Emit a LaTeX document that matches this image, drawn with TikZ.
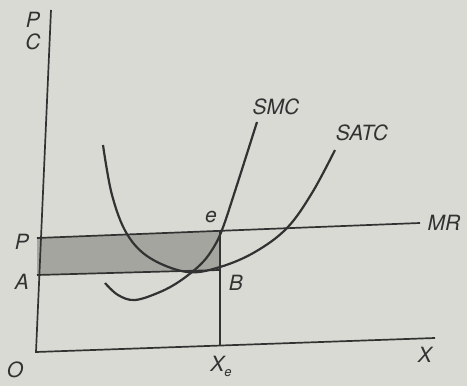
\documentclass[tikz,border=0pt]{standalone}
\usepackage{fontspec}
\setmainfont{TeX Gyre Heros}
\definecolor{bg}{RGB}{218,218,213}
\definecolor{ink}{RGB}{50,50,50}
\definecolor{hatchgray}{RGB}{165,165,160}
\begin{document}
\begin{tikzpicture}[x=1pt,y=-1pt,
  axis/.style={draw=ink,line width=1.7pt},
  curve/.style={draw=ink,line width=2.2pt},
  lbl/.style={text=ink,font=\fontsize{21}{24}\selectfont\itshape,inner sep=0pt}]
\fill[bg] (0,0) rectangle (467,386);
\useasboundingbox (0,0) rectangle (467,386);
% key points
\coordinate (Ytop) at (51,10);
\coordinate (O) at (36,352);
\coordinate (Xend) at (435,338);
\coordinate (P) at (37,238);
\coordinate (MRend) at (420,223);
\coordinate (A) at (37,275);
\coordinate (e) at (220,231);
\coordinate (B) at (220,270);
\coordinate (Xe) at (220,345);
% shaded area
\fill[fill=hatchgray] (P) -- (e) -- (B) -- (A) -- cycle;
% axes and lines
\draw[axis] (Ytop) -- (O) -- (Xend);
\draw[axis] (P) -- (MRend);
\draw[axis] (A) -- (B);
\draw[axis] (e) -- (Xe);
% curves
\draw[curve] plot[smooth,tension=0.6] coordinates {(103,145) (112,195) (127,234) (150,258) (187,272) (220,267) (255,252) (287,228) (312,193) (335,150)};
\draw[curve] plot[smooth,tension=0.6] coordinates {(105,283) (118,295) (135,300) (160,292) (180,281) (200,265) (212,250) (222,230) (236,188) (257,122)};
% labels
\node[lbl] (lP1) at (33,20) {P};
\node[lbl] (lC) at (33,42) {C};
\node[lbl] (lP) at (22,242) {P};
\node[lbl] (lA) at (22,282) {A};
\node[lbl] (lO) at (15,370) {O};
\node[lbl] (lXe) at (221,366) {X\raisebox{-0.45ex}{\fontsize{13}{13}\selectfont e}};
\node[lbl] (lX) at (425,355) {X};
\node[lbl] (lMR) at (444,223) {MR};
\node[lbl] (le) at (211,217) {e};
\node[lbl] (lB) at (236,283) {B};
\node[lbl] (lSMC) at (276,107) {SMC};
\node[lbl] (lSATC) at (362,133) {SATC};
\end{tikzpicture}
\end{document}
